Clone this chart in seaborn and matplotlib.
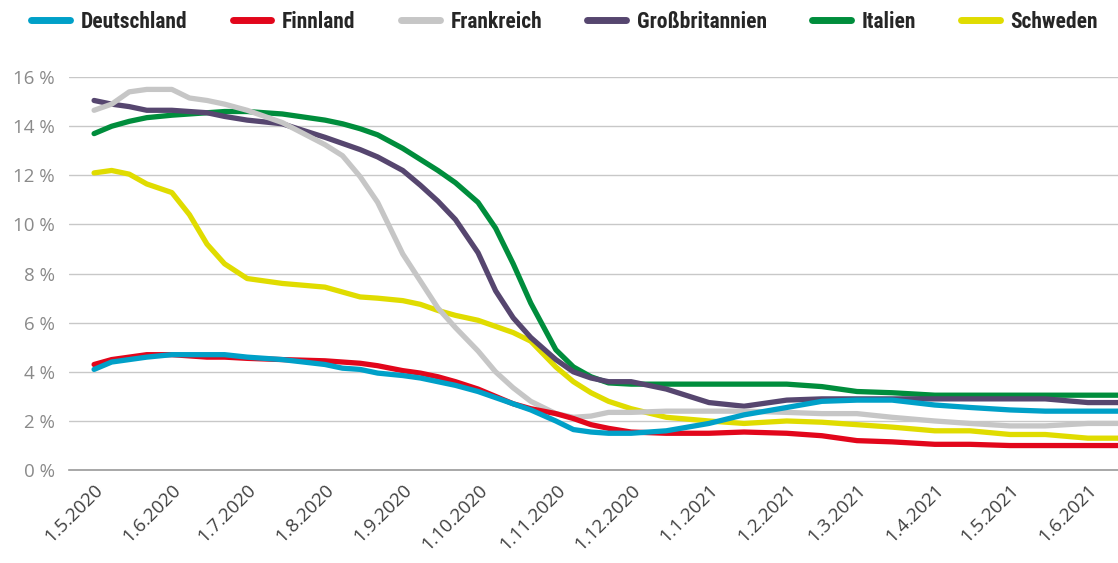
import matplotlib
matplotlib.use("Agg")
import matplotlib.pyplot as plt
import matplotlib.dates as mdates
from matplotlib import font_manager
from matplotlib.ticker import FuncFormatter, MultipleLocator
import pandas as pd
import seaborn as sns

# ── Data ─────────────────────────────────────────────────────────────────────
dates = pd.to_datetime([
    "2020-05-01", "2020-05-08", "2020-05-15", "2020-05-22",
    "2020-06-01", "2020-06-08", "2020-06-15", "2020-06-22",
    "2020-07-01", "2020-07-15",
    "2020-08-01", "2020-08-08", "2020-08-15", "2020-08-22",
    "2020-09-01", "2020-09-08", "2020-09-15", "2020-09-22",
    "2020-10-01", "2020-10-08", "2020-10-15", "2020-10-22",
    "2020-11-01", "2020-11-08", "2020-11-15", "2020-11-22",
    "2020-12-01", "2020-12-15", "2021-01-01", "2021-01-15",
    "2021-02-01", "2021-02-15", "2021-03-01", "2021-03-15",
    "2021-04-01", "2021-04-15", "2021-05-01", "2021-05-15",
    "2021-06-01", "2021-06-13",
])

deutschland = [4.1, 4.4, 4.5, 4.6, 4.7, 4.7, 4.7, 4.7, 4.6, 4.5,
               4.3, 4.15, 4.1, 3.95, 3.85, 3.75, 3.6, 3.45, 3.2, 2.95,
               2.7, 2.45, 2.0, 1.65, 1.55, 1.5, 1.5, 1.6, 1.9, 2.25,
               2.55, 2.8, 2.85, 2.85, 2.65, 2.55, 2.45, 2.4, 2.4, 2.4]
finnland = [4.3, 4.5, 4.6, 4.7, 4.7, 4.65, 4.6, 4.6, 4.55, 4.5,
            4.45, 4.4, 4.35, 4.25, 4.05, 3.95, 3.8, 3.6, 3.3, 3.0,
            2.7, 2.5, 2.3, 2.1, 1.85, 1.7, 1.55, 1.5, 1.5, 1.55,
            1.5, 1.4, 1.2, 1.15, 1.05, 1.05, 1.0, 1.0, 1.0, 1.0]
frankreich = [14.65, 14.9, 15.4, 15.5, 15.5, 15.15, 15.05, 14.9, 14.65, 14.15,
              13.25, 12.8, 11.95, 10.9, 8.8, 7.7, 6.6, 5.8, 4.85, 4.0,
              3.35, 2.8, 2.3, 2.15, 2.2, 2.35, 2.35, 2.4, 2.4, 2.4,
              2.35, 2.3, 2.3, 2.15, 2.0, 1.9, 1.8, 1.8, 1.9, 1.9]
grossbritannien = [15.05, 14.9, 14.8, 14.65, 14.65, 14.6, 14.55, 14.4, 14.25, 14.1,
                   13.55, 13.3, 13.05, 12.75, 12.2, 11.6, 10.95, 10.2, 8.85, 7.3,
                   6.2, 5.4, 4.5, 4.0, 3.75, 3.6, 3.6, 3.3, 2.75, 2.6,
                   2.85, 2.9, 2.9, 2.9, 2.9, 2.9, 2.9, 2.9, 2.75, 2.75]
italien = [13.7, 14.0, 14.2, 14.35, 14.45, 14.5, 14.55, 14.6, 14.6, 14.5,
           14.25, 14.1, 13.9, 13.65, 13.1, 12.65, 12.2, 11.7, 10.9, 9.85,
           8.4, 6.8, 4.9, 4.2, 3.8, 3.55, 3.5, 3.5, 3.5, 3.5,
           3.5, 3.4, 3.2, 3.15, 3.05, 3.05, 3.05, 3.05, 3.05, 3.05]
schweden = [12.1, 12.2, 12.05, 11.65, 11.3, 10.4, 9.2, 8.4, 7.8, 7.6,
            7.45, 7.25, 7.05, 7.0, 6.9, 6.75, 6.5, 6.3, 6.1, 5.85,
            5.6, 5.25, 4.2, 3.6, 3.15, 2.8, 2.5, 2.15, 2.0, 1.9,
            2.0, 1.95, 1.85, 1.75, 1.6, 1.6, 1.45, 1.45, 1.3, 1.3]

countries = ["Deutschland", "Finnland", "Frankreich",
             "Großbritannien", "Italien", "Schweden"]
series = [deutschland, finnland, frankreich, grossbritannien, italien, schweden]
colors = ["#00a0c8", "#e2061b", "#c6c6c6", "#56466f", "#008d3c", "#e0dc00"]


def pick_font(candidates):
    names = {f.name for f in font_manager.fontManager.ttflist}
    for c in candidates:
        if c in names:
            return c
    return "DejaVu Sans"


sns.set_style("white")
base_font = pick_font(["Open Sans", "Lato", "DejaVu Sans"])
legend_font = pick_font(["Liberation Sans Narrow", "DejaVu Sans Condensed",
                         "Roboto Condensed", "Open Sans"])
plt.rcParams["font.family"] = [base_font, "DejaVu Sans"]

df = pd.DataFrame({"Datum": list(dates) * len(countries),
                   "Anteil": sum(series, []),
                   "Land": [c for c in countries for _ in dates]})

fig = plt.figure(figsize=(11.18, 5.63), dpi=100)
ax = fig.add_axes([0.0617, 0.165, 0.9383, 0.698])

# first series drawn on top (reverse z-order)
for i, (name, col) in enumerate(zip(countries, colors)):
    sub = df[df["Land"] == name]
    sns.lineplot(data=sub, x="Datum", y="Anteil", color=col, lw=3.8,
                 label=name, ax=ax, zorder=10 - i,
                 solid_capstyle="round", solid_joinstyle="round")

ax.set_xlim(pd.Timestamp("2020-04-21"), pd.Timestamp("2021-06-13"))
ax.set_ylim(0, 16)
ax.yaxis.set_major_locator(MultipleLocator(2))
ax.yaxis.set_major_formatter(FuncFormatter(lambda v, _: f"{v:.0f} %"))
ax.xaxis.set_major_locator(mdates.MonthLocator(bymonthday=1))
ax.xaxis.set_major_formatter(FuncFormatter(
    lambda v, _: "{0.day}.{0.month}.{0.year}".format(mdates.num2date(v))))

ax.grid(axis="y", color="#c8c8c8", lw=1.0)
ax.set_axisbelow(True)
for s in ["top", "right", "left"]:
    ax.spines[s].set_visible(False)
ax.spines["bottom"].set_color("#9a9a9a")
ax.spines["bottom"].set_linewidth(1.2)

ax.tick_params(axis="y", length=0, labelsize=13.5, labelcolor="#8a8a8a", pad=10)
ax.tick_params(axis="x", length=6, width=1.0, color="#9a9a9a",
               labelsize=13.5, labelcolor="#404040", pad=2)
plt.setp(ax.get_xticklabels(), rotation=45, ha="right", rotation_mode="anchor")
ax.set_xlabel("")
ax.set_ylabel("")

handles, labels = ax.get_legend_handles_labels()
ax.get_legend().remove()
leg = fig.legend(handles, labels, loc="upper center", bbox_to_anchor=(0.505, 1.015),
                 ncol=6, frameon=False, handlelength=1.8, handletextpad=0.5,
                 columnspacing=2.1,
                 prop={"family": legend_font, "weight": "bold", "size": 15.5})
for h in leg.legend_handles:
    h.set_linewidth(5)
    h.set_solid_capstyle("round")

fig.savefig("out.png", dpi=100)
